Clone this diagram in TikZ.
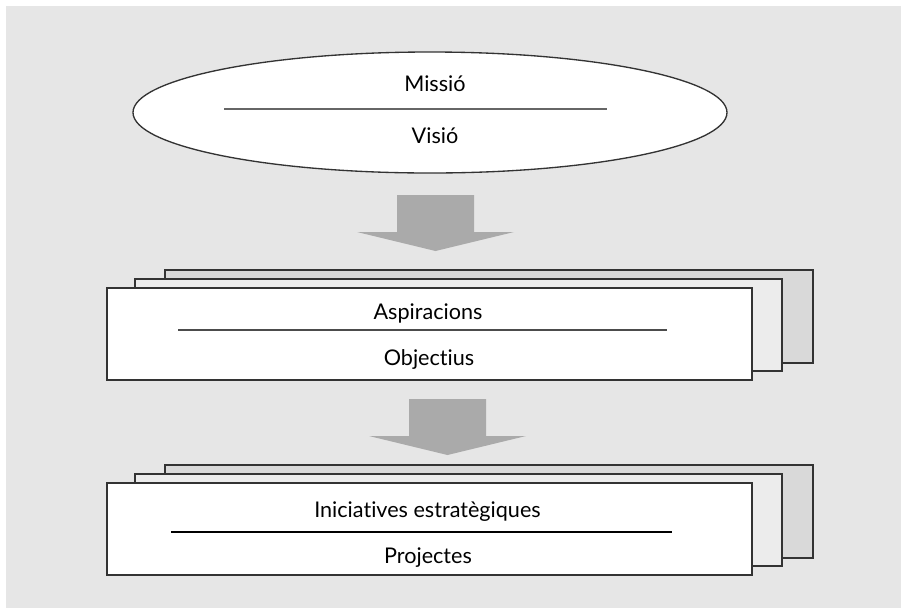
\documentclass[tikz,border=0pt]{standalone}
\usepackage{fontspec}
\setmainfont[Ligatures=NoCommon]{Lato}
\usetikzlibrary{calc}

\definecolor{fonsgris}{HTML}{E6E6E6}
\definecolor{fullaback}{HTML}{D9D9D9}
\definecolor{fullamid}{HTML}{ECECEC}
\definecolor{fletxagris}{HTML}{AAAAAA}
\definecolor{vora}{HTML}{333333}

\tikzset{
  fulla/.style={draw=vora, line width=1pt},
  etiqueta/.style={font=\fontsize{16.2}{18}\selectfont, inner sep=0pt, anchor=base},
  separador/.style={line width=0.9pt}
}

\begin{document}
\begin{tikzpicture}[x=0.75pt,y=-0.75pt]
\useasboundingbox (0,0) rectangle (901,608);
\fill[fonsgris] (6,6) rectangle (901,608);
% missio i visio
\draw[fulla, fill=white] (430,112.5) ellipse [x radius=297, y radius=60.5];
\node[etiqueta] (missio) at (435,91) {Missió};
\node[etiqueta] (visio) at (435,143) {Visió};
\draw[separador, black!60] (224,109) -- (607,109);
% fletxes
\foreach \cx/\ty in {435.5/195, 447.5/399} {
 \fill[fletxagris] (\cx-38.5,\ty) --++(77,0) --++(0,37) -- (\cx+78.5,\ty+37)
   -- (\cx,\ty+56) -- (\cx-78.5,\ty+37) -- (\cx-38.5,\ty+37) -- cycle;
}
% piles de fulls
\foreach \dy in {0, 195} {
 \draw[fulla, fill=fullaback] (165,270+\dy) rectangle (813,363+\dy);
 \draw[fulla, fill=fullamid] (135,279+\dy) rectangle (782,371+\dy);
 \draw[fulla, fill=white] (107,288+\dy) rectangle (752,380+\dy);
}
\node[etiqueta] (aspiracions) at (428,319.5) {Aspiracions};
\node[etiqueta] (objectius) at (429,365) {Objectius};
\draw[separador, black!70] (178,330) -- (667,330);
\node[etiqueta] (iniciatives) at (427.5,517) {Iniciatives estratègiques};
\node[etiqueta] (projectes) at (428,563) {Projectes};
\draw[separador, black] (171,532) -- (672,532);
\end{tikzpicture}
\end{document}
